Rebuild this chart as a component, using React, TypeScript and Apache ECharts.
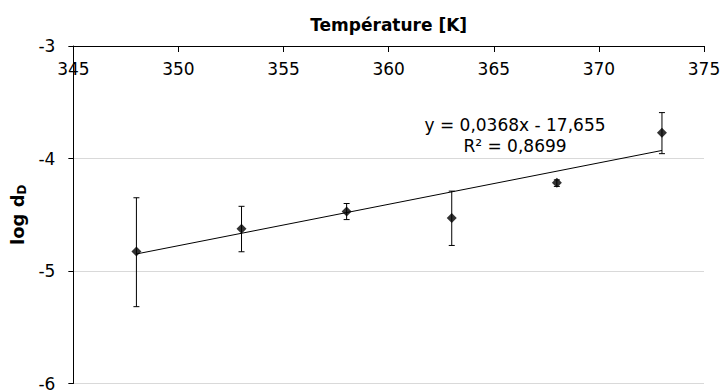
import React, { useEffect, useRef } from "react";
import * as echarts from "echarts";

const temperatures = [348, 353, 358, 363, 368, 373];
const logD = [-4.826, -4.625, -4.472, -4.528, -4.216, -3.771];
const errHigh = [-4.349, -4.425, -4.4, -4.29, -4.19, -3.592];
const errLow = [-5.317, -4.829, -4.543, -4.773, -4.248, -3.957];
const slope = 0.0368;
const intercept = -17.655;
const equationText = "y = 0,0368x - 17,655";
const r2Text = "R² = 0,8699";
const xTicks = { min: 345, max: 375, interval: 5 };
const yTicks = { min: -6, max: -3, interval: 1 };

export default function App() {
  const ref = useRef<HTMLDivElement>(null);
  useEffect(() => {
    if (!ref.current) return;
    const chart = echarts.init(ref.current, null, { renderer: "svg" });
    const font = "'DejaVu Sans', sans-serif";
    const xFirst = temperatures[0];
    const xLast = temperatures[temperatures.length - 1];
    const trend = [
      [xFirst, slope * xFirst + intercept],
      [xLast, slope * xLast + intercept],
    ];
    chart.setOption({
      animation: false,
      backgroundColor: "#fff",
      grid: { left: 72, right: 20, top: 46, bottom: 6, containLabel: false },
      xAxis: {
        type: "value",
        position: "top",
        min: xTicks.min,
        max: xTicks.max,
        interval: xTicks.interval,
        name: "Température [K]",
        nameLocation: "middle",
        nameGap: 13,
        nameTextStyle: { fontFamily: font, fontWeight: "bold", fontSize: 17, color: "#000" },
        axisLine: { show: true, onZero: false, lineStyle: { color: "#000", width: 1 } },
        axisTick: { show: true, inside: true, length: 6, lineStyle: { color: "#000" } },
        axisLabel: { inside: true, margin: 14, fontFamily: font, fontSize: 17, color: "#000" },
        splitLine: { show: false },
      },
      yAxis: {
        type: "value",
        min: yTicks.min,
        max: yTicks.max,
        interval: yTicks.interval,
        name: "{a|log d}{b|D}",
        nameLocation: "middle",
        nameGap: 34,
        nameRotate: 90,
        nameTextStyle: {
          rich: {
            a: { fontFamily: font, fontWeight: "bold", fontSize: 18, color: "#000" },
            b: { fontFamily: font, fontWeight: "bold", fontSize: 12, color: "#000", padding: [9, 0, 0, 0] },
          },
        },
        axisLine: { show: true, onZero: false, lineStyle: { color: "#000", width: 1 } },
        axisTick: { show: true, length: 5, lineStyle: { color: "#000" } },
        axisLabel: { margin: 18, fontFamily: font, fontSize: 17, color: "#000" },
        splitLine: { show: true, lineStyle: { color: "#d9d9d9", width: 1 } },
      },
      series: [
        {
          type: "line",
          data: trend,
          symbol: "none",
          lineStyle: { color: "#000", width: 1 },
          z: 2,
        },
        {
          type: "custom",
          data: temperatures.map((t, i) => [t, errHigh[i], errLow[i]]),
          renderItem: (params: any, api: any) => {
            const hi = api.coord([api.value(0), api.value(1)]);
            const lo = api.coord([api.value(0), api.value(2)]);
            const cap = 3;
            const style = { stroke: "#000", lineWidth: 1 };
            return {
              type: "group",
              children: [
                { type: "line", shape: { x1: hi[0], y1: hi[1], x2: lo[0], y2: lo[1] }, style },
                { type: "line", shape: { x1: hi[0] - cap, y1: hi[1], x2: hi[0] + cap, y2: hi[1] }, style },
                { type: "line", shape: { x1: lo[0] - cap, y1: lo[1], x2: lo[0] + cap, y2: lo[1] }, style },
              ],
            };
          },
          z: 3,
        },
        {
          type: "scatter",
          data: temperatures.map((t, i) => [t, logD[i]]),
          symbol: "diamond",
          symbolSize: 10,
          itemStyle: { color: "#000" },
          z: 4,
        },
      ],
      graphic: [
        {
          type: "text",
          x: 515,
          y: 125,
          style: { text: equationText, fontFamily: font, fontSize: 17, fill: "#000", textAlign: "center", textVerticalAlign: "middle" },
        },
        {
          type: "text",
          x: 515,
          y: 146,
          style: { text: r2Text, fontFamily: font, fontSize: 17, fill: "#000", textAlign: "center", textVerticalAlign: "middle" },
        },
      ],
    });
    return () => chart.dispose();
  }, []);
  return (
    <div
      ref={ref}
      style={{ position: "fixed", left: 0, top: 0, width: 724, height: 392 }}
    />
  );
}
